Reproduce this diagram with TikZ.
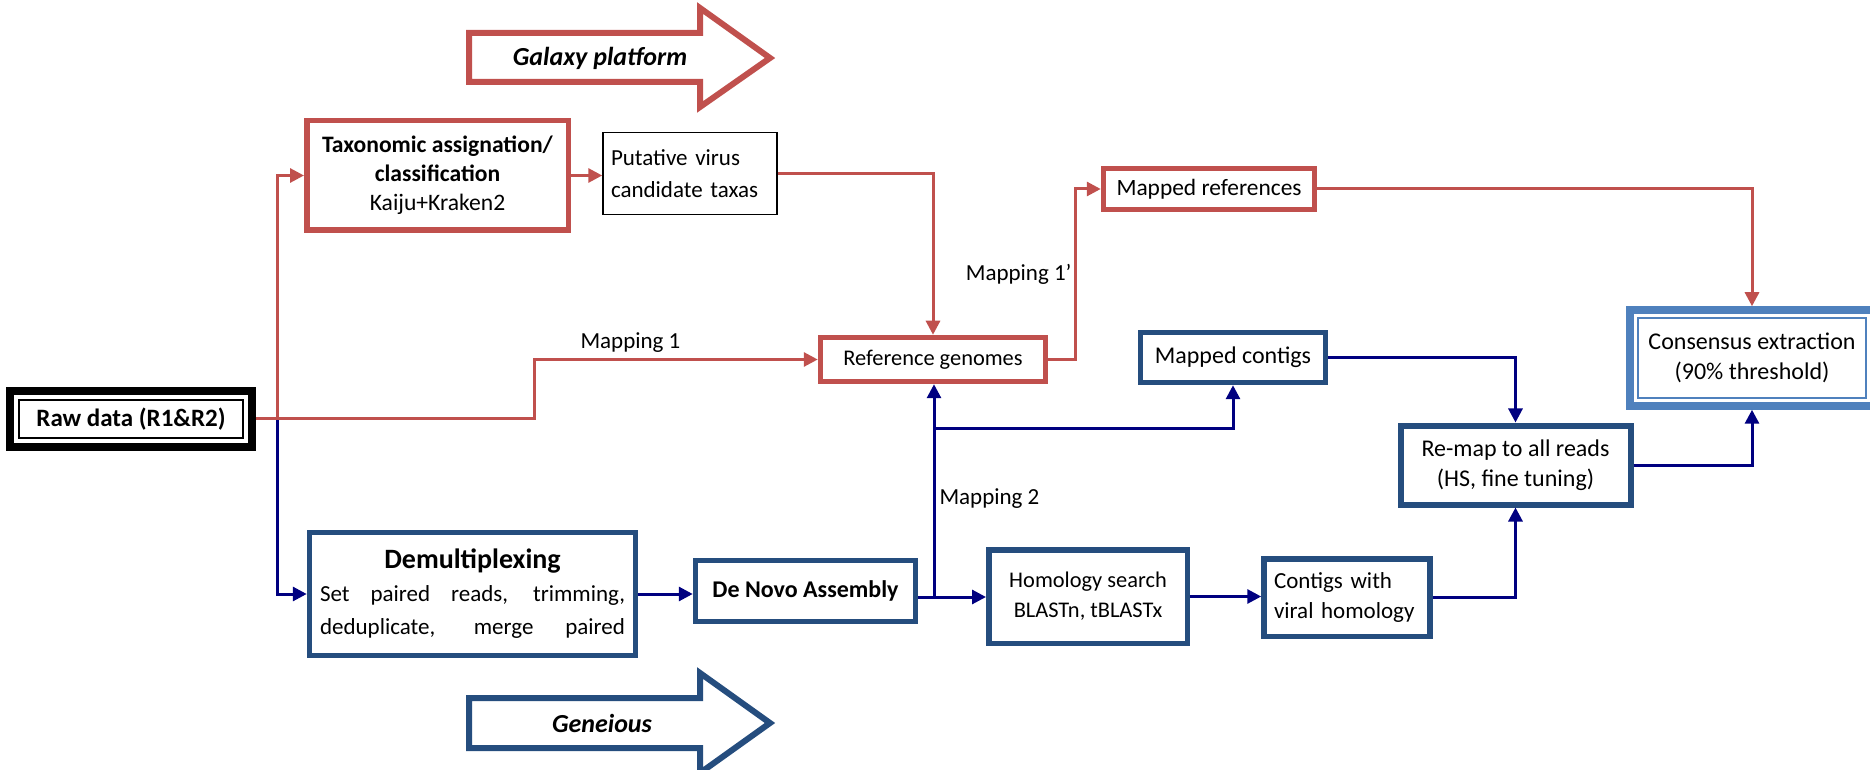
\documentclass[tikz,border=0pt]{standalone}
\usepackage{fontspec}
\setmainfont{Carlito}
\usepackage{xcolor}
\definecolor{colorGalaxy}{HTML}{C0504D}
\definecolor{colorGeneious}{HTML}{254D7E}
\definecolor{colorConsensus}{HTML}{4F81BD}
\definecolor{colorFlow}{HTML}{000080}
\usepackage{tikz}
\usetikzlibrary{arrows.meta, fit}

\begin{document}
\begin{tikzpicture}[x=0.5pt, y=-0.5pt, >={Triangle[length=7pt,width=7pt]},
  every node/.style={font=\fontsize{11.5}{14.5}\selectfont, inner sep=0pt},
  galaxyBox/.style={draw=colorGalaxy, line width=2.75pt, align=center},
  geneiousBox/.style={draw=colorGeneious, line width=2.75pt, align=center},
  galaxyFlow/.style={colorGalaxy, line width=1.5pt, ->},
  geneiousFlow/.style={colorFlow, line width=1.5pt, ->},
  mapLabel/.style={text=black, font=\fontsize{11.5}{13.5}\selectfont, inner sep=3pt},
  platform/.style={line width=3pt, line join=miter, fill=white},
  ]
\useasboundingbox (0,0) rectangle (1870,770);

% platform arrows
\draw[platform, draw=colorGalaxy] (469,33) -- (700,33) -- (700,8) -- (770,58) -- (700,107) -- (700,82) -- (469,82) -- cycle;
\node (galaxy) at (600,58) {\fontsize{13}{15}\selectfont\bfseries\itshape Galaxy platform};
\draw[platform, draw=colorGeneious] (469,698) -- (700,698) -- (700,673) -- (770,723) -- (700,773) -- (700,748) -- (469,748) -- cycle;
\node (geneious) at (602,723) {\fontsize{13}{15}\selectfont\bfseries\itshape Geneious};

% input
\node[draw, line width=0.75pt, minimum width=112pt, minimum height=19pt, font=\fontsize{12.5}{14}\selectfont\bfseries] (raw) at (131,419) {Raw data (R1\&R2)};
\node[fit=(raw), inner sep=4pt, draw, line width=4pt] (rawFrame) {};

% galaxy boxes
\node[galaxyBox, minimum width=130.75pt, minimum height=54.75pt, font=\fontsize{11.8}{14.5}\selectfont] (taxo) at (437.5,175.5) {\textbf{Taxonomic assignation/}\\\textbf{classification}\\Kaiju+Kraken2};
\node[draw, line width=0.75pt, text width=79pt, inner xsep=4pt, align=left, minimum height=41pt, font=\fontsize{11.5}{16}\selectfont] (putative) at (690,173.5) {Putative virus\\candidate taxas};
\node[galaxyBox, minimum width=112.5pt, minimum height=22pt, font=\fontsize{11.2}{13}\selectfont] (refgen) at (933,359.5) {Reference genomes};
\node[galaxyBox, minimum width=105.5pt, minimum height=20.5pt, font=\fontsize{11.7}{13.5}\selectfont] (mapref) at (1209,189) {Mapped references};

% geneious boxes
\node[geneiousBox, minimum width=163pt, minimum height=61.5pt, font=\fontsize{11.5}{16.5}\selectfont] (demux) at (472.5,594) {{\fontsize{14}{16.5}\selectfont\bfseries Demultiplexing}\\\makebox[152.5pt][s]{Set paired reads, trimming,}\\\makebox[152.5pt][s]{deduplicate, merge paired}};
\node[geneiousBox, minimum width=110pt, minimum height=30.5pt, font=\fontsize{12}{14}\selectfont\bfseries] (denovo) at (805.5,591) {De Novo Assembly};
\node[geneiousBox, minimum width=99.25pt, minimum height=46.75pt, font=\fontsize{11.2}{15}\selectfont] (homology) at (1088,596.5) {Homology search\\BLASTn, tBLASTx};
\node[geneiousBox, text width=73pt, inner xsep=5pt, align=left, minimum height=38.75pt, font=\fontsize{11.5}{15}\selectfont] (contigs) at (1347,597.5) {Contigs with\\viral homology};
\node[geneiousBox, minimum width=92.5pt, minimum height=25pt, font=\fontsize{12}{14}\selectfont] (mapcont) at (1233,357.5) {Mapped contigs};
\node[geneiousBox, line width=3pt, minimum width=115pt, minimum height=39.5pt, font=\fontsize{12}{15}\selectfont] (remap) at (1515.5,465) {Re-map to all reads\\(HS, fine tuning)};

% output
\node[draw=colorConsensus, line width=0.75pt, minimum width=114pt, minimum height=40pt, align=center, font=\fontsize{12}{15}\selectfont] (cons) at (1752,358) {Consensus extraction\\(90\% threshold)};
\node[fit=(cons), inner sep=3.5pt, draw=colorConsensus, line width=4pt] (consFrame) {};

\coordinate (split) at (277,419);
\coordinate (bend1) at (534,419);
\coordinate (bend1p) at (1075,359.5);
\coordinate (m2) at (934,597);
\coordinate (m2b) at (934,428);

% geneious flow
\draw[geneiousFlow] (split) |- (demux.west);
\draw[geneiousFlow] (demux.east) -- (demux.east -| denovo.west);
\draw[geneiousFlow] (m2 -| denovo.east) -- (m2 -| homology.west);
\draw[geneiousFlow] (m2) -- (m2 |- refgen.south) node[pos=0.465, right, mapLabel, inner sep=2pt] {Mapping 2};
\draw[geneiousFlow] (m2b) -| (mapcont.south);
\draw[geneiousFlow] (homology.east) -- (homology.east -| contigs.west);
\draw[geneiousFlow] (contigs.east) -| (remap.south);
\draw[geneiousFlow] (mapcont.east) -| (remap.north);
\draw[geneiousFlow] (remap.east) -| (consFrame.south);

% galaxy flow
\draw[galaxyFlow] (split) |- (taxo.west);
\draw[galaxyFlow] (rawFrame.east) -- (bend1) |- (refgen.west) node[pos=0.67, above, mapLabel] {Mapping 1};
\draw[galaxyFlow] (taxo.east) -- (taxo.east -| putative.west);
\draw[galaxyFlow] (putative.east) -| (refgen.north);
\draw[galaxyFlow] (refgen.east) -- (bend1p) |- (mapref.west) node[pos=0.25, left, mapLabel, inner sep=1pt] {Mapping 1'};
\draw[galaxyFlow] (mapref.east) -| (consFrame.north);
\end{tikzpicture}
\end{document}
